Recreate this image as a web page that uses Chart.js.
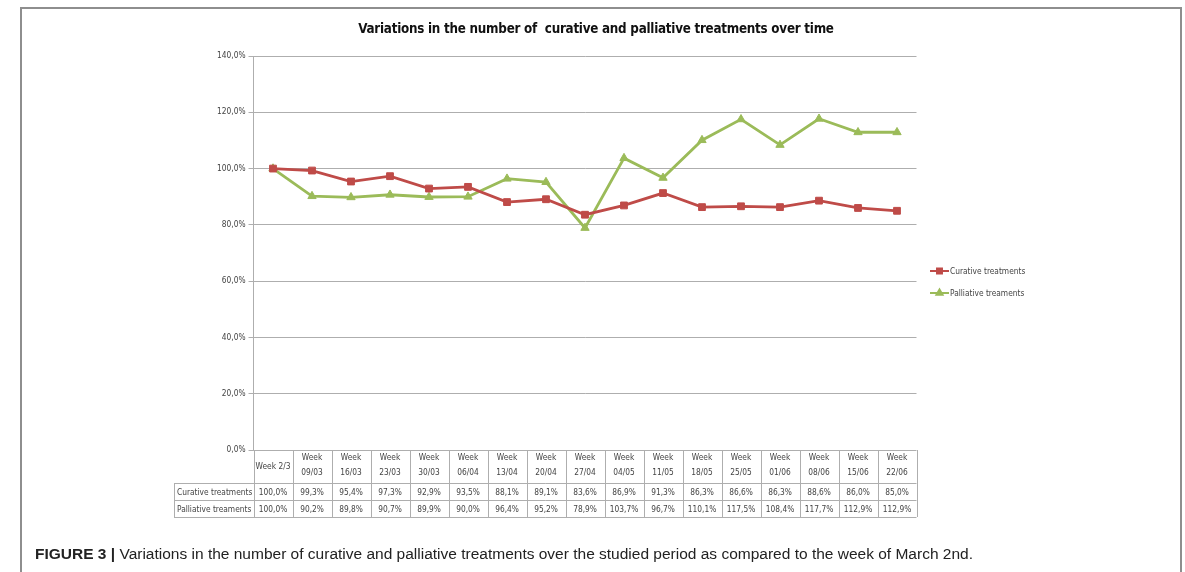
<!DOCTYPE html>
<html>
<head>
<meta charset="utf-8">
<script src="https://cdn.jsdelivr.net/npm/chart.js@4.4.1/dist/chart.umd.min.js"></script>
<style>
  html, body { margin: 0; padding: 0; background: #fff; width: 1185px; height: 572px; overflow: hidden; }
  #frame { position: absolute; left: 20px; top: 7px; width: 1162px; height: 620px; border: 2px solid #8e8e8e; border-bottom: none; box-sizing: border-box; }
  #chart { position: absolute; left: 0; top: 0; }
  #title { position: absolute; top: 21px; left: 0; width: 1192px; text-align: center; font: bold 13.3px "DejaVu Sans Condensed", "Liberation Sans Narrow", sans-serif; color: #111; letter-spacing: -0.25px; }
  #caption { position: absolute; left: 35px; top: 545px; font: 15.5px "Liberation Sans", Arial, sans-serif; color: #222; white-space: nowrap; }
  #caption b { font-weight: bold; }
</style>
</head>
<body>
<div id="frame"></div>
<canvas id="chart" width="1185" height="572"></canvas>
<div id="title">Variations in the number of&nbsp; curative and palliative treatments over time</div>
<div id="caption"><b>FIGURE 3 |</b> Variations in the number of curative and palliative treatments over the studied period as compared to the week of March 2nd.</div>
<script>
// Weekly categories (header cells of the data table)
const weeks = [
  ['Week 2/3'], ['Week', '09/03'], ['Week', '16/03'], ['Week', '23/03'], ['Week', '30/03'],
  ['Week', '06/04'], ['Week', '13/04'], ['Week', '20/04'], ['Week', '27/04'], ['Week', '04/05'],
  ['Week', '11/05'], ['Week', '18/05'], ['Week', '25/05'], ['Week', '01/06'], ['Week', '08/06'],
  ['Week', '15/06'], ['Week', '22/06']
];

// Values relative to the week of March 2nd (%)
const curative = [100.0, 99.3, 95.4, 97.3, 92.9, 93.5, 88.1, 89.1, 83.6, 86.9, 91.3, 86.3, 86.6, 86.3, 88.6, 86.0, 85.0];
const palliative = [100.0, 90.2, 89.8, 90.7, 89.9, 90.0, 96.4, 95.2, 78.9, 103.7, 96.7, 110.1, 117.5, 108.4, 117.7, 112.9, 112.9];

const seriesNames = ['Curative treatments', 'Palliative treaments'];
const yTicks = [0, 20, 40, 60, 80, 100, 120, 140];

const RED = '#bf4b48';
const GREEN = '#9bbb59';
const GRID = '#aeaeae';
const TEXT = '#444';
const SMALL_FONT = '8.3px "DejaVu Sans Condensed", "Liberation Sans Narrow", sans-serif';

const fmt = v => v.toFixed(1).replace('.', ',') + '%';

// Data table drawn under the category axis, plus the legend on the right
const tableAndLegend = {
  id: 'tableAndLegend',
  afterDraw(chart) {
    const ctx = chart.ctx;
    const x = chart.scales.x;
    const n = weeks.length;
    const band = (x.right - x.left) / n;
    const top = chart.chartArea.bottom;
    const r1 = 483, r2 = 500, r3 = 517;
    const labelLeft = 174;

    ctx.save();
    ctx.strokeStyle = GRID;
    ctx.lineWidth = 1;
    ctx.beginPath();
    [r1, r2, r3].forEach(yy => {
      ctx.moveTo(labelLeft, yy + 0.5);
      ctx.lineTo(x.right, yy + 0.5);
    });
    ctx.moveTo(labelLeft + 0.5, r1);
    ctx.lineTo(labelLeft + 0.5, r3);
    for (let i = 0; i <= n; i++) {
      const px = Math.round(x.left + i * band) + 0.5;
      ctx.moveTo(px, top);
      ctx.lineTo(px, r3);
    }
    ctx.stroke();

    ctx.fillStyle = TEXT;
    ctx.font = SMALL_FONT;
    ctx.textAlign = 'center';
    ctx.textBaseline = 'middle';
    weeks.forEach((lines, i) => {
      const cx = x.getPixelForValue(i);
      if (lines.length === 1) {
        ctx.fillText(lines[0], cx, (top + r1) / 2 + 0.5);
      } else {
        ctx.fillText(lines[0], cx, top + 8);
        ctx.fillText(lines[1], cx, top + 23);
      }
      ctx.fillText(fmt(curative[i]), cx, (r1 + r2) / 2 + 1);
      ctx.fillText(fmt(palliative[i]), cx, (r2 + r3) / 2 + 1);
    });
    ctx.textAlign = 'left';
    ctx.fillText(seriesNames[0], labelLeft + 3, (r1 + r2) / 2 + 1);
    ctx.fillText(seriesNames[1], labelLeft + 3, (r2 + r3) / 2 + 1);

    // Legend
    const legendX = 930;
    const items = [
      { name: seriesNames[0], color: RED, style: 'rect', y: 271 },
      { name: seriesNames[1], color: GREEN, style: 'triangle', y: 293 }
    ];
    items.forEach(it => {
      ctx.strokeStyle = it.color;
      ctx.lineWidth = 2;
      ctx.beginPath();
      ctx.moveTo(legendX, it.y);
      ctx.lineTo(legendX + 19, it.y);
      ctx.stroke();
      ctx.fillStyle = it.color;
      Chart.helpers.drawPoint(ctx, { pointStyle: it.style, radius: 3.5, borderWidth: 1 }, legendX + 9.5, it.y);
      ctx.fillStyle = TEXT;
      ctx.textAlign = 'left';
      ctx.fillText(it.name, legendX + 20, it.y + 0.5);
    });
    ctx.restore();
  }
};

new Chart(document.getElementById('chart'), {
  type: 'line',
  data: {
    labels: weeks,
    datasets: [
      {
        label: seriesNames[0],
        data: curative,
        borderColor: RED,
        backgroundColor: RED,
        borderWidth: 2.8,
        pointStyle: 'rect',
        pointRadius: 4.8,
        pointBorderWidth: 1,
        tension: 0
      },
      {
        label: seriesNames[1],
        data: palliative,
        borderColor: GREEN,
        backgroundColor: GREEN,
        borderWidth: 2.8,
        pointStyle: 'triangle',
        pointRadius: 4.8,
        pointBorderWidth: 1,
        tension: 0
      }
    ]
  },
  options: {
    responsive: false,
    animation: false,
    layout: { padding: { left: 0, right: 268.5, top: 56, bottom: 122 } },
    plugins: {
      legend: { display: false },
      title: { display: false },
      tooltip: { enabled: false }
    },
    scales: {
      x: {
        offset: true,
        grid: { display: false },
        border: { display: false },
        ticks: { display: false },
        afterFit(s) { s.height = 0; }
      },
      y: {
        min: 0,
        max: 140,
        afterBuildTicks(s) { s.ticks = yTicks.map(v => ({ value: v })); },
        afterFit(s) { s.width = 253.5; },
        grid: { color: GRID, lineWidth: 1, tickLength: 5, drawTicks: true },
        border: { display: true, color: GRID, width: 1 },
        ticks: {
          padding: 3,
          color: TEXT,
          font: { family: '"DejaVu Sans Condensed", "Liberation Sans Narrow", sans-serif', size: 8.3 },
          callback: v => fmt(v)
        }
      }
    }
  },
  plugins: [tableAndLegend]
});
</script>
</body>
</html>
